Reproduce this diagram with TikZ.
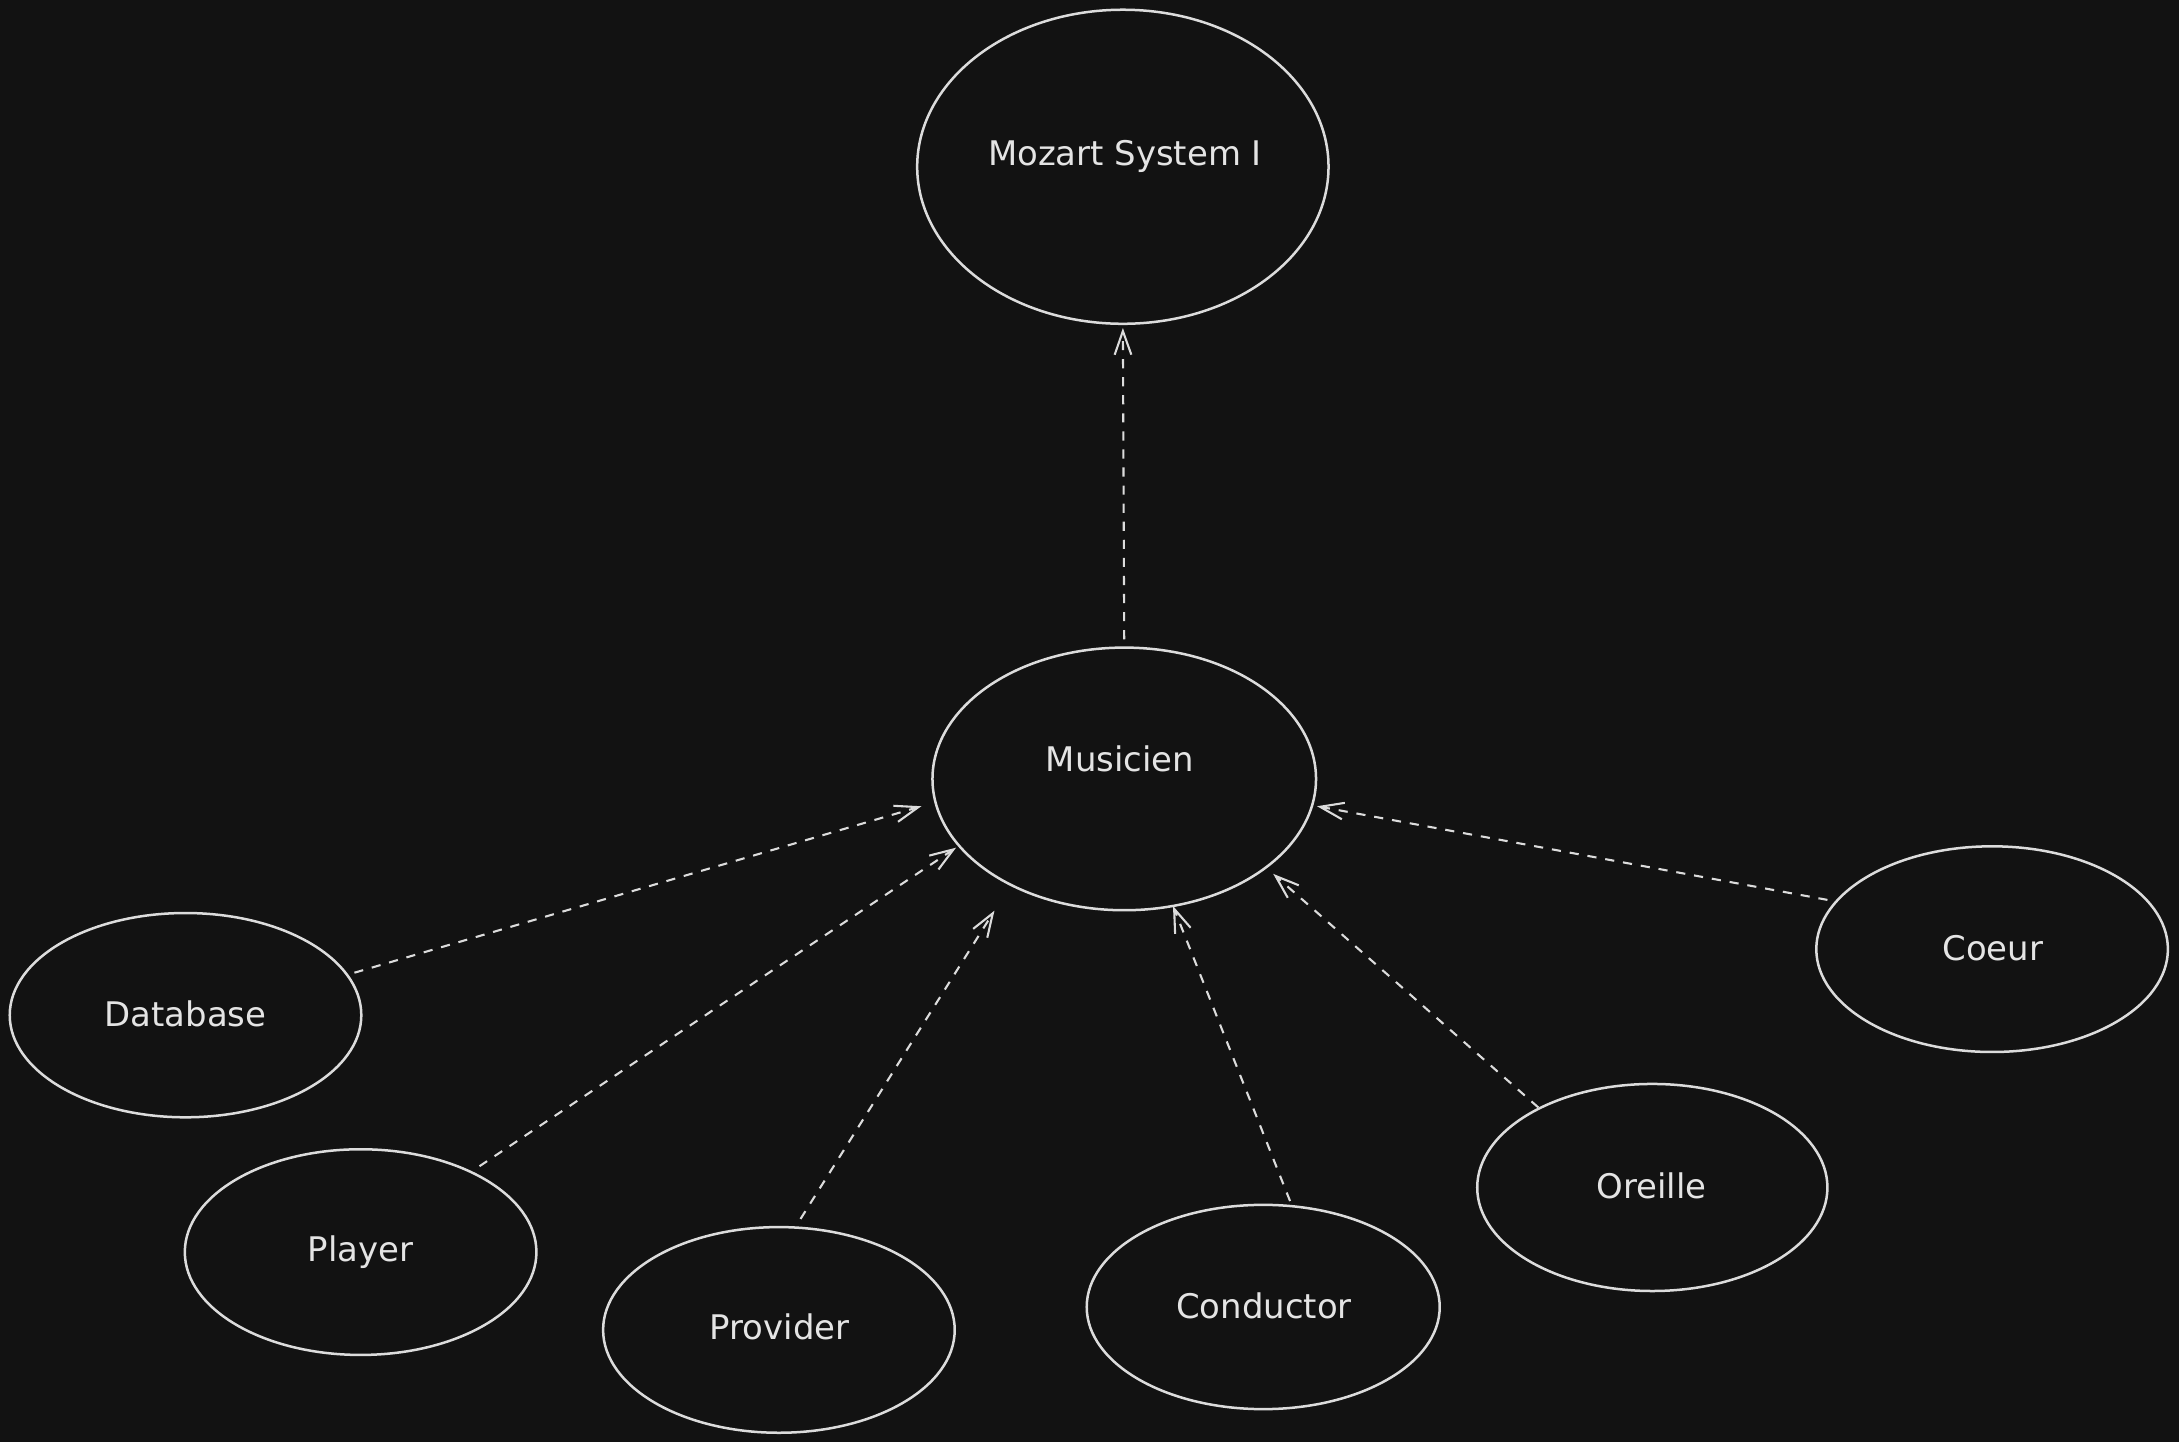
\documentclass[tikz,border=0pt]{standalone}
\usepackage{fontspec}
\setmainfont{DejaVu Sans}
\usetikzlibrary{shapes.geometric,arrows.meta}
\definecolor{bg}{HTML}{121212}
\definecolor{ink}{HTML}{DCDCDC}
\definecolor{txt}{HTML}{E4E4E4}
\tikzset{
  ell/.style={draw=ink, line width=0.9pt, ellipse, inner sep=0pt, outer sep=0pt},
  lbl/.style={text=txt, anchor=base, inner sep=0pt, font=\fontsize{12.2pt}{14pt}\selectfont},
  dep/.style={draw=ink, line width=0.75pt, dash pattern=on 3.3pt off 3.2pt,
    -{Straight Barb[length=8.5pt,width=6pt,line width=0.75pt]}}
}
\begin{document}
\begin{tikzpicture}[x=0.5pt,y=-0.5pt]
\fill[bg] (0,0) rectangle (1568,1038);
\useasboundingbox (0,0) rectangle (1568,1038);

% ellipses
\node[ell, minimum width=148pt, minimum height=113pt] (moz) at (808,120) {};
\node[ell, minimum width=138pt, minimum height=94.5pt] (mus) at (809,560.5) {};
\node[ell, minimum width=126.5pt, minimum height=73.5pt] (db) at (133.5,730.5) {};
\node[ell, minimum width=126.5pt, minimum height=74pt] (pl) at (259.5,901) {};
\node[ell, minimum width=126.5pt, minimum height=74pt] (pr) at (560.5,957) {};
\node[ell, minimum width=127pt, minimum height=73.5pt] (co) at (909,940.5) {};
\node[ell, minimum width=126pt, minimum height=74.5pt] (or) at (1189,854.5) {};
\node[ell, minimum width=126.5pt, minimum height=74pt] (ce) at (1433.5,683) {};

% labels
\node[lbl] (tmoz) at (809.5,119) {Mozart System I};
\node[lbl] (tmus) at (806,555) {Musicien};
\node[lbl] (tdb) at (133.5,738.5) {Database};
\node[lbl] (tpl) at (259.5,908) {Player};
\node[lbl] (tpr) at (561,964) {Provider};
\node[lbl] (tco) at (909.5,948.5) {Conductor};
\node[lbl] (tor) at (1188.5,862.5) {Oreille};
\node[lbl] (tce) at (1434,691.5) {Coeur};

% connectors
\draw[dep, shorten <=3pt, shorten >=1.5pt] (mus.north) -- (moz.south);
\draw[dep, shorten <=2.75pt, shorten >=5.3pt] (db.14.1) -- (mus.187.6);
\draw[dep, shorten <=3.75pt, shorten >=1.3pt] (pl.36) -- (mus.202.8);
\draw[dep, shorten <=3.65pt, shorten >=11pt] (pr.81.9) -- (mus.223);
\draw[dep, shorten <=2pt, shorten >=0pt] (co.74) -- (mus.291.5);
\draw[dep, shorten <=0.5pt, shorten >=3.5pt] (or.145) -- (mus.328.6);
\draw[dep, shorten <=3.25pt, shorten >=1.8pt] (ce.163.1) -- (mus.352.4);
\end{tikzpicture}
\end{document}
